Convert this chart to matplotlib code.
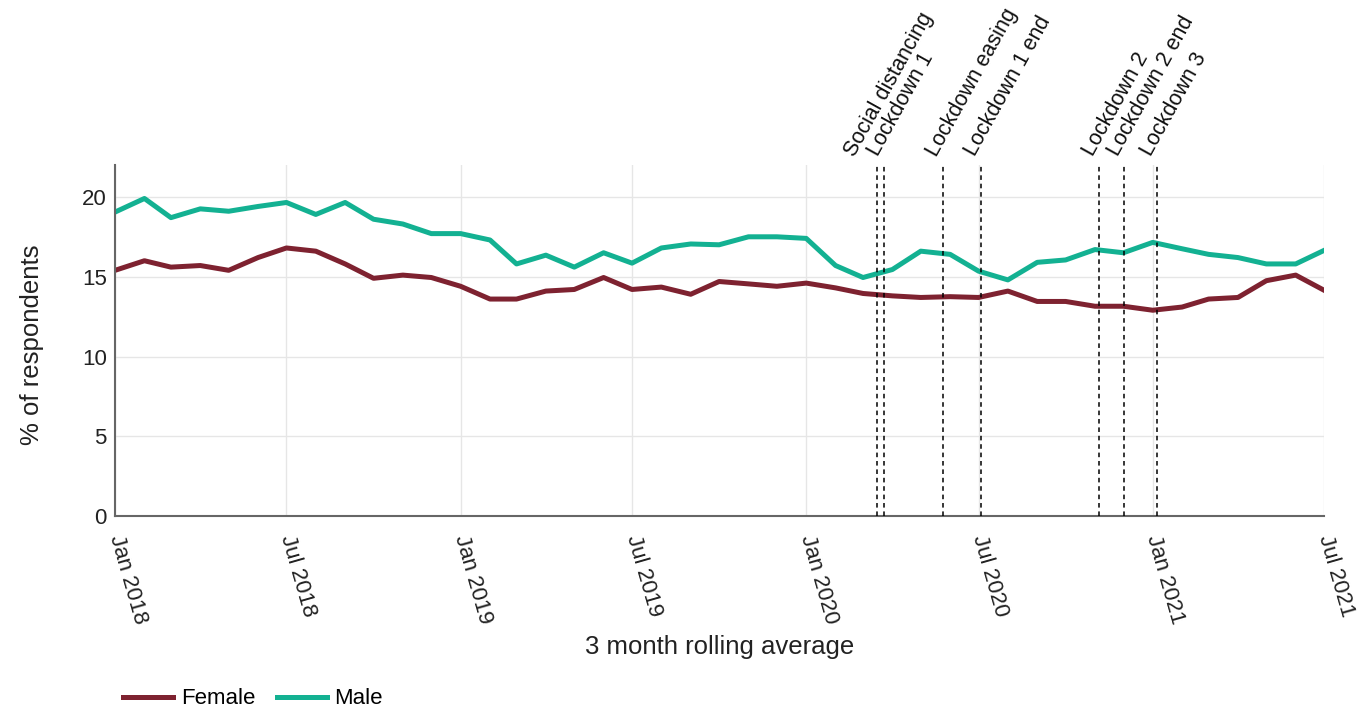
import matplotlib
matplotlib.use("Agg")
import matplotlib.pyplot as plt
import pandas as pd

plt.rcParams['font.family'] = ['Liberation Sans', 'DejaVu Sans']

# monthly points, Jan 2018 - Jul 2021
months = pd.date_range('2018-01-01', '2021-07-01', freq='MS')

female = [15.4, 16.0, 15.6, 15.7, 15.4, 16.2, 16.8, 16.6, 15.8, 14.9,
          15.1, 14.95, 14.4, 13.6, 13.6, 14.1, 14.2, 14.95, 14.2, 14.35,
          13.9, 14.7, 14.55, 14.4, 14.6, 14.3, 13.95, 13.8, 13.7, 13.75,
          13.7, 14.1, 13.45, 13.45, 13.15, 13.15, 12.9, 13.1, 13.6, 13.7,
          14.75, 15.1, 14.15]
male = [19.05, 19.9, 18.7, 19.25, 19.1, 19.4, 19.65, 18.9, 19.65, 18.6,
        18.3, 17.7, 17.7, 17.3, 15.8, 16.35, 15.6, 16.5, 15.85, 16.8,
        17.05, 17.0, 17.5, 17.5, 17.4, 15.7, 14.95, 15.45, 16.6, 16.4,
        15.35, 14.8, 15.9, 16.05, 16.7, 16.5, 17.15, 16.75, 16.4, 16.2,
        15.8, 15.8, 16.65]

events = ['Social distancing', 'Lockdown 1', 'Lockdown easing', 'Lockdown 1 end',
          'Lockdown 2', 'Lockdown 2 end', 'Lockdown 3']
event_dates = pd.to_datetime(['2020-03-16', '2020-03-23', '2020-05-24', '2020-07-04',
                              '2020-11-05', '2020-12-02', '2021-01-06'])

tick_dates = pd.date_range('2018-01-01', '2021-07-01', freq='6MS')

fig = plt.figure(figsize=(13.7, 7.11), dpi=100)
ax = fig.add_axes([0.084, 0.274, 0.8825, 0.494])

ax.plot(months, female, color='#7e2230', lw=3.6, label='Female')
ax.plot(months, male, color='#13b192', lw=3.6, label='Male')

for i, (d, name) in enumerate(zip(event_dates, events)):
    ax.axvline(d, color='black', ls=(0, (3, 2.5)), lw=1.1, zorder=3)
    # first label is pushed left so it does not sit on "Lockdown 1"
    dx = -16.5 if i == 0 else -4.5
    ax.annotate(name, xy=(d, 1.0), xycoords=('data', 'axes fraction'),
                xytext=(dx, 5.5), textcoords='offset points',
                rotation=61, rotation_mode='anchor', ha='left', va='baseline',
                fontsize=15.5, color='#111111')

ax.set_xlim(months[0], months[-1])
ax.set_ylim(0, 22)
ax.set_yticks([0, 5, 10, 15, 20])
ax.set_xticks(tick_dates)
ax.set_xticklabels([d.strftime('%b %Y') for d in tick_dates])
for lab in ax.get_xticklabels():
    lab.set_rotation(-74)
    lab.set_rotation_mode('anchor')
    lab.set_ha('left')
    lab.set_va('center')

ax.grid(True, color='#e6e6e6', lw=1)
ax.set_axisbelow(True)
ax.tick_params(length=0, labelsize=16, colors='#222222')
ax.tick_params(axis='y', pad=6)
ax.tick_params(axis='x', pad=14)
for s in ['top', 'right']:
    ax.spines[s].set_visible(False)
for s in ['left', 'bottom']:
    ax.spines[s].set_color('#666666')
    ax.spines[s].set_linewidth(1.5)

ax.set_ylabel('% of respondents', fontsize=18.5, color='#222222')
ax.yaxis.set_label_coords(-0.0587, 0.487)
ax.set_xlabel('3 month rolling average', fontsize=18.5, color='#222222')
ax.xaxis.set_label_coords(0.5, -0.339)

fig.legend(loc='center left', bbox_to_anchor=(0.0898, 0.0169), ncol=2, frameon=False,
           fontsize=16, handlelength=2.25, columnspacing=0.95, handletextpad=0.36,
           borderpad=0, borderaxespad=0)

fig.savefig('out.png', dpi=100)
